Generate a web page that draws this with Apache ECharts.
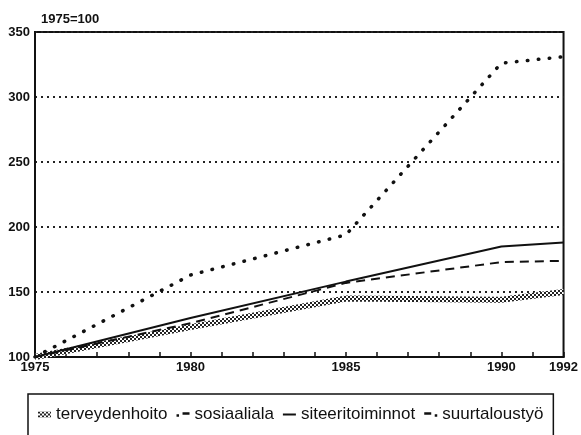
<!DOCTYPE html>
<html>
<head>
<meta charset="utf-8">
<script src="https://cdn.jsdelivr.net/npm/echarts@6/dist/echarts.min.js"></script>
<style>
  html, body { margin: 0; padding: 0; background: #fff; }
  #chart { width: 581px; height: 435px; }
</style>
</head>
<body>
<div id="chart"></div>
<script>
// vuodet ja indeksit (1975=100)
const years = [1975, 1980, 1985, 1990, 1992]
const terveydenhoito = [100, 123, 145, 144, 150]
const sosiaaliala = [100, 163, 194, 326, 331]
const siteeritoiminnot = [100, 130, 158, 185, 188]
const suurtaloustyo = [100, 126, 157, 173, 174]
const xLabels = [1975, 1980, 1985, 1990, 1992]
const yTicks = [100, 150, 200, 250, 300, 350]

const font = "'Liberation Sans', Arial, sans-serif"

// ruudullinen kuvio terveydenhoidon viivalle
let pat = document.createElement("canvas")
pat.width = 4
pat.height = 4
let ctx = pat.getContext("2d")
ctx.fillStyle = "#fff"
ctx.fillRect(0, 0, 4, 4)
ctx.fillStyle = "#222"
ctx.fillRect(0, 0, 2, 2)
ctx.fillRect(2, 2, 2, 2)
let checker = { image: pat, repeat: "repeat" }

let pairs = (vals) => years.map((y, i) => [y, vals[i]])

let myChart = echarts.init(document.getElementById("chart"))
myChart.setOption({
  animation: false,
  title: {
    text: "1975=100",
    left: 36,
    top: 8,
    textStyle: { fontFamily: font, fontSize: 13, fontWeight: "bold", color: "#111" }
  },
  grid: {
    show: true,
    left: 35,
    right: 15,
    top: 32,
    bottom: 78,
    borderColor: "#111",
    borderWidth: 2,
    backgroundColor: "transparent"
  },
  legend: {
    left: 28,
    top: 394,
    padding: [12, 10, 40, 10],
    borderColor: "#111",
    borderWidth: 1.5,
    itemWidth: 13,
    itemHeight: 6,
    itemGap: 9,
    textStyle: { fontFamily: font, fontSize: 17, color: "#111" },
    data: [
      { name: "terveydenhoito", icon: "rect", itemStyle: { color: checker } },
      { name: "sosiaaliala", icon: "path://M0,3h2.5v2.5h-2.5Z M6,1h7v2.5h-7Z", itemStyle: { color: "#111" } },
      { name: "siteeritoiminnot", icon: "path://M0,0h13v2h-13Z", itemStyle: { color: "#111" } },
      { name: "suurtaloustyö", icon: "path://M0,1h7v2.5h-7Z M10.5,3h2.5v2.5h-2.5Z", itemStyle: { color: "#111" } }
    ]
  },
  xAxis: {
    type: "value",
    min: 1975,
    max: 1992,
    interval: 1,
    axisLine: { lineStyle: { color: "#111", width: 2 } },
    axisTick: { inside: true, length: 5, lineStyle: { color: "#111", width: 1.5 } },
    splitLine: { show: false },
    axisLabel: {
      fontFamily: font,
      fontSize: 13,
      fontWeight: "bold",
      color: "#111",
      margin: 4,
      formatter: (v) => (xLabels.includes(v) ? String(v) : "")
    }
  },
  yAxis: {
    type: "value",
    min: yTicks[0],
    max: yTicks[yTicks.length - 1],
    interval: 50,
    axisLine: { show: true, lineStyle: { color: "#111", width: 2 } },
    axisTick: { show: false },
    axisLabel: { fontFamily: font, fontSize: 13, fontWeight: "bold", color: "#111", margin: 5 },
    splitLine: { lineStyle: { color: "#222", width: 2, type: [2, 4] } }
  },
  series: [
    {
      name: "terveydenhoito",
      type: "line",
      symbol: "none",
      data: pairs(terveydenhoito),
      itemStyle: { color: "#111" },
      lineStyle: { color: checker, width: 6 },
      z: 2
    },
    {
      name: "sosiaaliala",
      type: "line",
      symbol: "none",
      data: pairs(sosiaaliala),
      itemStyle: { color: "#111" },
      lineStyle: { color: "#111", width: 3.5, type: [0.5, 10.5], cap: "round" },
      z: 3
    },
    {
      name: "siteeritoiminnot",
      type: "line",
      symbol: "none",
      data: pairs(siteeritoiminnot),
      itemStyle: { color: "#111" },
      lineStyle: { color: "#111", width: 2 },
      z: 3
    },
    {
      name: "suurtaloustyö",
      type: "line",
      symbol: "none",
      data: pairs(suurtaloustyo),
      itemStyle: { color: "#111" },
      lineStyle: { color: "#111", width: 2, type: [9, 6] },
      z: 3
    }
  ]
})
</script>
</body>
</html>
